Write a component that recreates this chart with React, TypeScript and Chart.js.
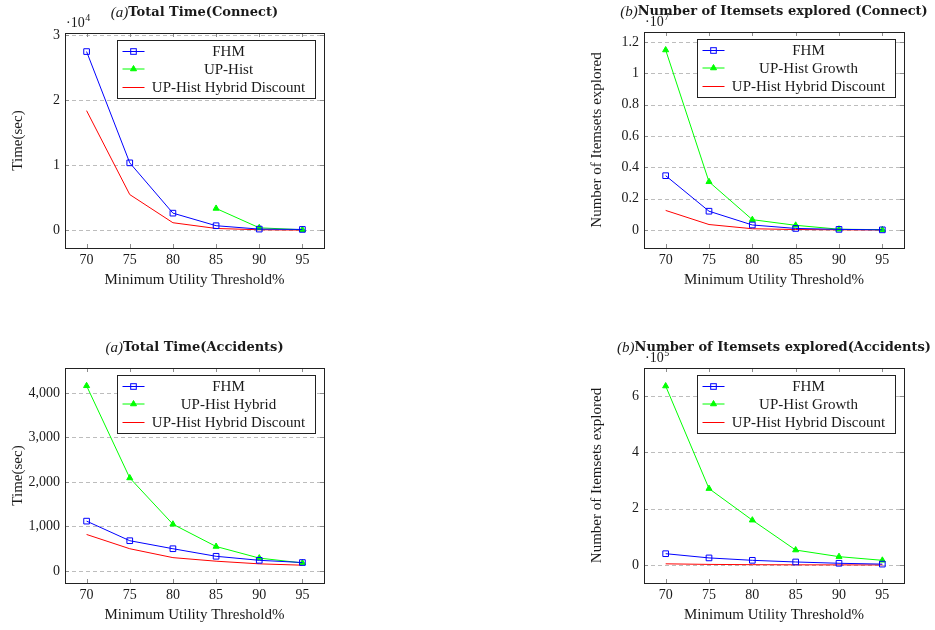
import React, { useEffect, useRef } from "react";
import { Chart, registerables } from "chart.js";

Chart.register(...registerables);

// ---------- data ----------
const thresholds = [70, 75, 80, 85, 90, 95];
const xTickValues = [70, 75, 80, 85, 90, 95];

// (a) Total Time (Connect), seconds
const connectTimeFHM = [27450, 10370, 2650, 720, 200, 150];
const connectTimeUPHist = [null, null, null, 3370, 400, 100];
const connectTimeDiscount = [18380, 5500, 1180, 300, 100, 50];
const connectTimeTicks = [0, 10000, 20000, 30000];

// (b) Number of Itemsets explored (Connect)
const connectItemsFHM = [3470000, 1200000, 320000, 100000, 40000, 10000];
const connectItemsGrowth = [11500000, 3080000, 660000, 300000, 50000, 20000];
const connectItemsDiscount = [1250000, 350000, 80000, 30000, 10000, 5000];
const connectItemsTicks = [0, 2000000, 4000000, 6000000, 8000000, 10000000, 12000000];

// (a) Total Time (Accidents), seconds
const accTimeFHM = [1120, 680, 500, 330, 240, 190];
const accTimeHybrid = [4160, 2090, 1050, 550, 290, 180];
const accTimeDiscount = [820, 500, 300, 220, 160, 130];
const accTimeTicks = [0, 1000, 2000, 3000, 4000];

// (b) Number of Itemsets explored (Accidents)
const accItemsFHM = [40000, 25000, 16500, 10600, 6000, 3000];
const accItemsGrowth = [635000, 271000, 159000, 53000, 29500, 16500];
const accItemsDiscount = [4000, 2000, 1000, 500, 300, 100];
const accItemsTicks = [0, 200000, 400000, 600000];

// ---------- styles ----------
const BLUE = "#0000ff";
const GREEN = "#00ff00";
const RED = "#ff0000";
const TEXT = "#1a1a1a";
const FONT = "'Liberation Serif', serif";
const TITLE_FONT = "'DejaVu Serif', serif";

type SeriesDef = { label: string; values: (number | null)[]; color: string; marker: "rect" | "triangle" | "none" };
type PanelDef = {
  left: number; top: number; width: number; height: number;
  area: { l: number; t: number; r: number; b: number };
  titleItalic: string; titleBold: string;
  yLabel: string;
  exponent: string | null;
  yMin: number; yMax: number;
  yTicks: number[];
  yFmt: (v: number) => string;
  series: SeriesDef[];
};

const panels: PanelDef[] = [
  {
    left: 0, top: 0, width: 330, height: 300,
    area: { l: 65, t: 33, r: 324, b: 248 },
    titleItalic: "(a)", titleBold: "Total Time(Connect)",
    yLabel: "Time(sec)", exponent: "4",
    yMin: -2700, yMax: 30300, yTicks: connectTimeTicks,
    yFmt: (v) => String(Math.round(v / 1e4)),
    series: [
      { label: "FHM", values: connectTimeFHM, color: BLUE, marker: "rect" },
      { label: "UP-Hist", values: connectTimeUPHist, color: GREEN, marker: "triangle" },
      { label: "UP-Hist Hybrid Discount", values: connectTimeDiscount, color: RED, marker: "none" },
    ],
  },
  {
    left: 580, top: 0, width: 355, height: 300,
    area: { l: 64, t: 32, r: 324, b: 248 },
    titleItalic: "(b)", titleBold: "Number of Itemsets explored (Connect)",
    yLabel: "Number of Itemsets explored", exponent: "7",
    yMin: -1150000, yMax: 12650000, yTicks: connectItemsTicks,
    yFmt: (v) => String(Number((v / 1e7).toFixed(1))),
    series: [
      { label: "FHM", values: connectItemsFHM, color: BLUE, marker: "rect" },
      { label: "UP-Hist Growth", values: connectItemsGrowth, color: GREEN, marker: "triangle" },
      { label: "UP-Hist Hybrid Discount", values: connectItemsDiscount, color: RED, marker: "none" },
    ],
  },
  {
    left: 0, top: 330, width: 330, height: 300,
    area: { l: 65, t: 38, r: 324, b: 253 },
    titleItalic: "(a)", titleBold: "Total Time(Accidents)",
    yLabel: "Time(sec)", exponent: null,
    yMin: -270, yMax: 4560, yTicks: accTimeTicks,
    yFmt: (v) => v.toLocaleString("en-US"),
    series: [
      { label: "FHM", values: accTimeFHM, color: BLUE, marker: "rect" },
      { label: "UP-Hist Hybrid", values: accTimeHybrid, color: GREEN, marker: "triangle" },
      { label: "UP-Hist Hybrid Discount", values: accTimeDiscount, color: RED, marker: "none" },
    ],
  },
  {
    left: 580, top: 330, width: 355, height: 300,
    area: { l: 64, t: 38, r: 324, b: 253 },
    titleItalic: "(b)", titleBold: "Number of Itemsets explored(Accidents)",
    yLabel: "Number of Itemsets explored", exponent: "5",
    yMin: -64000, yMax: 699000, yTicks: accItemsTicks,
    yFmt: (v) => String(Math.round(v / 1e5)),
    series: [
      { label: "FHM", values: accItemsFHM, color: BLUE, marker: "rect" },
      { label: "UP-Hist Growth", values: accItemsGrowth, color: GREEN, marker: "triangle" },
      { label: "UP-Hist Hybrid Discount", values: accItemsDiscount, color: RED, marker: "none" },
    ],
  },
];

function drawMarker(ctx: CanvasRenderingContext2D, kind: string, x: number, y: number, color: string) {
  ctx.save();
  ctx.strokeStyle = color;
  ctx.fillStyle = color;
  ctx.lineWidth = 1;
  if (kind === "rect") {
    const s = 2.8;
    ctx.strokeRect(x - s, y - s, 2 * s, 2 * s);
  } else if (kind === "triangle") {
    const r = 3.5;
    ctx.beginPath();
    for (let k = 0; k < 3; k++) {
      const a = (k * 2 * Math.PI) / 3;
      const px = x + Math.sin(a) * r;
      const py = y - Math.cos(a) * r;
      if (k === 0) ctx.moveTo(px, py);
      else ctx.lineTo(px, py);
    }
    ctx.closePath();
    ctx.fill();
    ctx.stroke();
  }
  ctx.restore();
}

function makeDecorPlugin(p: PanelDef) {
  return {
    id: "decor",
    beforeDatasetsDraw(chart: any) {
      const ctx: CanvasRenderingContext2D = chart.ctx;
      const a = chart.chartArea;
      const ys = chart.scales.y;
      const xs = chart.scales.x;
      ctx.save();
      // dashed grid
      ctx.strokeStyle = "#bdbdbd";
      ctx.lineWidth = 1;
      ctx.setLineDash([4, 3]);
      for (const v of p.yTicks) {
        const y = Math.round(ys.getPixelForValue(v)) + 0.5;
        ctx.beginPath();
        ctx.moveTo(a.left, y);
        ctx.lineTo(a.right, y);
        ctx.stroke();
      }
      ctx.setLineDash([]);
      // inward tick marks
      ctx.strokeStyle = "#8c8c8c";
      for (const v of p.yTicks) {
        const y = Math.round(ys.getPixelForValue(v)) + 0.5;
        ctx.beginPath();
        ctx.moveTo(a.left, y); ctx.lineTo(a.left + 4, y);
        ctx.moveTo(a.right, y); ctx.lineTo(a.right - 4, y);
        ctx.stroke();
      }
      for (const v of xTickValues) {
        const x = Math.round(xs.getPixelForValue(v)) + 0.5;
        ctx.beginPath();
        ctx.moveTo(x, a.bottom); ctx.lineTo(x, a.bottom - 4);
        ctx.moveTo(x, a.top); ctx.lineTo(x, a.top + 4);
        ctx.stroke();
      }
      ctx.restore();
    },
    afterDatasetsDraw(chart: any) {
      const ctx: CanvasRenderingContext2D = chart.ctx;
      const a = chart.chartArea;
      ctx.save();
      // frame
      ctx.strokeStyle = "#222";
      ctx.lineWidth = 1;
      ctx.strokeRect(Math.round(a.left) + 0.5, Math.round(a.top) + 0.5, Math.round(a.right - a.left), Math.round(a.bottom - a.top));

      // legend
      const lw = 198, lh = 58;
      const lx = Math.round(a.right - 9 - lw) + 0.5;
      const ly = Math.round(a.top + 7) + 0.5;
      ctx.fillStyle = "#fff";
      ctx.fillRect(lx, ly, lw, lh);
      ctx.strokeStyle = "#222";
      ctx.strokeRect(lx, ly, lw, lh);
      const rows = [11, 28.5, 47];
      p.series.forEach((s, i) => {
        const ry = ly + rows[i];
        ctx.strokeStyle = s.color;
        ctx.lineWidth = 1;
        ctx.beginPath();
        ctx.moveTo(lx + 5, ry);
        ctx.lineTo(lx + 27, ry);
        ctx.stroke();
        if (s.marker !== "none") drawMarker(ctx, s.marker, lx + 16, ry, s.color);
        ctx.fillStyle = TEXT;
        ctx.font = `15px ${FONT}`;
        ctx.textAlign = "center";
        ctx.textBaseline = "middle";
        ctx.fillText(s.label, lx + 111, ry + 1);
      });

      // title
      const cx = (a.left + a.right) / 2;
      const ty = a.top - 20;
      ctx.textBaseline = "middle";
      ctx.textAlign = "left";
      ctx.font = `italic 15px ${FONT}`;
      const wi = ctx.measureText(p.titleItalic).width;
      ctx.font = `bold 13px ${TITLE_FONT}`;
      const wb = ctx.measureText(p.titleBold).width;
      const tx = cx - (wi + wb) / 2;
      ctx.fillStyle = TEXT;
      ctx.font = `italic 15px ${FONT}`;
      ctx.fillText(p.titleItalic, tx, ty);
      ctx.font = `bold 13px ${TITLE_FONT}`;
      ctx.fillText(p.titleBold, tx + wi, ty);

      // exponent multiplier
      if (p.exponent) {
        ctx.textBaseline = "alphabetic";
        ctx.font = `14px ${FONT}`;
        const base = "\u00b710";
        ctx.fillText(base, a.left + 1, a.top - 6);
        const bw = ctx.measureText(base).width;
        ctx.font = `10px ${FONT}`;
        ctx.fillText(p.exponent, a.left + 1 + bw + 0.5, a.top - 12);
      }

      // axis labels
      ctx.font = `15px ${FONT}`;
      ctx.textAlign = "center";
      ctx.textBaseline = "middle";
      ctx.fillText("Minimum Utility Threshold%", cx, a.bottom + 32);
      ctx.save();
      ctx.translate(a.left - 47, (a.top + a.bottom) / 2);
      ctx.rotate(-Math.PI / 2);
      ctx.fillText(p.yLabel, 0, 0);
      ctx.restore();
      ctx.restore();
    },
  };
}

function Panel({ p }: { p: PanelDef }) {
  const ref = useRef<HTMLCanvasElement | null>(null);
  useEffect(() => {
    if (!ref.current) return;
    const datasets = p.series.map((s) => ({
      label: s.label,
      data: thresholds
        .map((x, i) => ({ x, y: s.values[i] }))
        .filter((pt) => pt.y !== null),
      borderColor: s.color,
      backgroundColor: s.marker === "triangle" ? s.color : "rgba(0,0,0,0)",
      borderWidth: 1,
      pointStyle: s.marker === "none" ? false : s.marker,
      pointRadius: s.marker === "rect" ? 4 : s.marker === "triangle" ? 3.5 : 0,
      pointBorderWidth: 1,
      pointBorderColor: s.color,
      pointBackgroundColor: s.marker === "triangle" ? s.color : "rgba(0,0,0,0)",
      tension: 0,
      fill: false,
    }));
    const chart = new Chart(ref.current, {
      type: "line",
      data: { datasets },
      plugins: [makeDecorPlugin(p)],
      options: {
        animation: false,
        responsive: false,
        layout: { padding: { left: 0, top: p.area.t, right: p.width - p.area.r, bottom: 0 } },
        plugins: { legend: { display: false }, title: { display: false }, tooltip: { enabled: false } },
        scales: {
          x: {
            type: "linear",
            min: 67.5,
            max: 97.5,
            grid: { display: false, drawTicks: false, tickLength: 0 },
            border: { display: false },
            afterBuildTicks: (scale: any) => {
              scale.ticks = xTickValues.map((v) => ({ value: v }));
            },
            afterFit: (scale: any) => {
              scale.height = p.height - p.area.b;
            },
            ticks: {
              autoSkip: false,
              maxRotation: 0,
              padding: 4,
              color: TEXT,
              font: { family: FONT, size: 14 },
              callback: (v: any) => String(v),
            },
          },
          y: {
            type: "linear",
            min: p.yMin,
            max: p.yMax,
            grid: { display: false, drawTicks: false, tickLength: 0 },
            border: { display: false },
            afterBuildTicks: (scale: any) => {
              scale.ticks = p.yTicks.map((v) => ({ value: v }));
            },
            afterFit: (scale: any) => {
              scale.width = p.area.l;
            },
            ticks: {
              padding: 5,
              color: TEXT,
              font: { family: FONT, size: 14 },
              callback: (v: any) => p.yFmt(Number(v)),
            },
          },
        },
      } as any,
    });
    return () => chart.destroy();
  }, [p]);
  return (
    <canvas
      ref={ref}
      width={p.width}
      height={p.height}
      style={{ position: "absolute", left: p.left, top: p.top, width: p.width, height: p.height }}
    />
  );
}

export default function App() {
  return (
    <div style={{ position: "fixed", left: 0, top: 0, width: 935, height: 630, background: "#fff" }}>
      {panels.map((p, i) => (
        <Panel key={i} p={p} />
      ))}
    </div>
  );
}
